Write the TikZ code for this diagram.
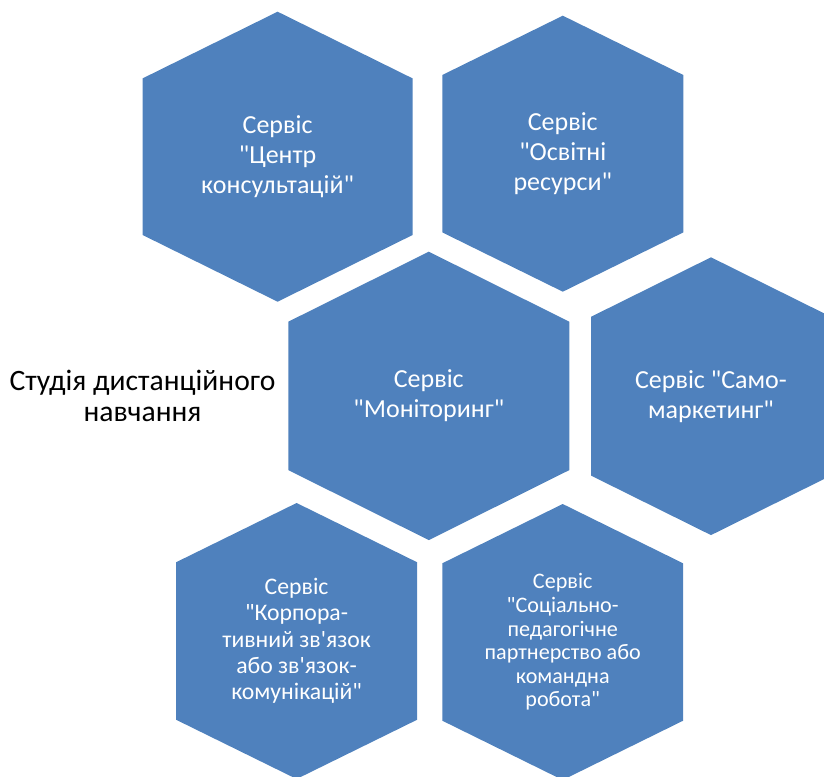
\documentclass[tikz,border=0pt]{standalone}
\usepackage{fontspec}
\setmainfont{Carlito}[Ligatures=TeXOff]
\usepackage{tikz}
\usepackage{xcolor}
\definecolor{CellBlue}{HTML}{4F81BD}

% centre x, centre y, half width, half height, slant height
\newcommand{\hexcell}[5]{%
  \fill[CellBlue] (#1,#2-#4) -- (#1+#3,#2-#4+#5) -- (#1+#3,#2+#4-#5) -- (#1,#2+#4)
    -- (#1-#3,#2+#4-#5) -- (#1-#3,#2-#4+#5) -- cycle;}

\begin{document}
\begin{tikzpicture}[
                x=0.75pt, y=-0.75pt,
                service/.style={text=white, align=center, font=\fontsize{19.5}{22.5}\selectfont},
                servicesmall/.style={service, font=\fontsize{17.8}{19.7}\selectfont},
                servicetiny/.style={service, font=\fontsize{16.6}{17.7}\selectfont},
                title/.style={text=black, align=center, font=\fontsize{22.2}{23.8}\selectfont}
            ]

            \useasboundingbox (0,0) rectangle (824,777);
            \clip (0,0) rectangle (824,777);

            \hexcell{277.6}{156.7}{135}{145}{66.7}
            \hexcell{562.8}{153.7}{120.5}{138}{59.3}
            \hexcell{428.8}{395.9}{140.5}{144.2}{70}
            \hexcell{711}{396.2}{120}{138.9}{59.5}
            \hexcell{296.6}{641}{120.6}{138}{59.3}
            \hexcell{562.7}{642}{120.4}{138}{59.3}

            \node[service] (consult) at (277.6,156.7) {Сервіс\\"Центр\\консультацій"};
            \node[service] (resources) at (562.8,153.7) {Сервіс\\"Освітні\\ресурси"};
            \node[service] (monitor) at (428.8,395.9) {Сервіс\\"Моніторинг"};
            \node[service] (selfmark) at (711,396.2) {Сервіс "Само-\\маркетинг"};
            \node[servicesmall] (corporate) at (296.6,641) {Сервіс\\"Корпора-\\тивний зв'язок\\або зв'язок-\\комунікацій"};
            \node[servicetiny] (partner) at (562.7,642) {Сервіс\\"Соціально-\\педагогічне\\партнерство або\\командна\\робота"};

            \node[title] (studio) at (142.5,396) {Студія дистанційного\\навчання};

        \end{tikzpicture}
\end{document}
